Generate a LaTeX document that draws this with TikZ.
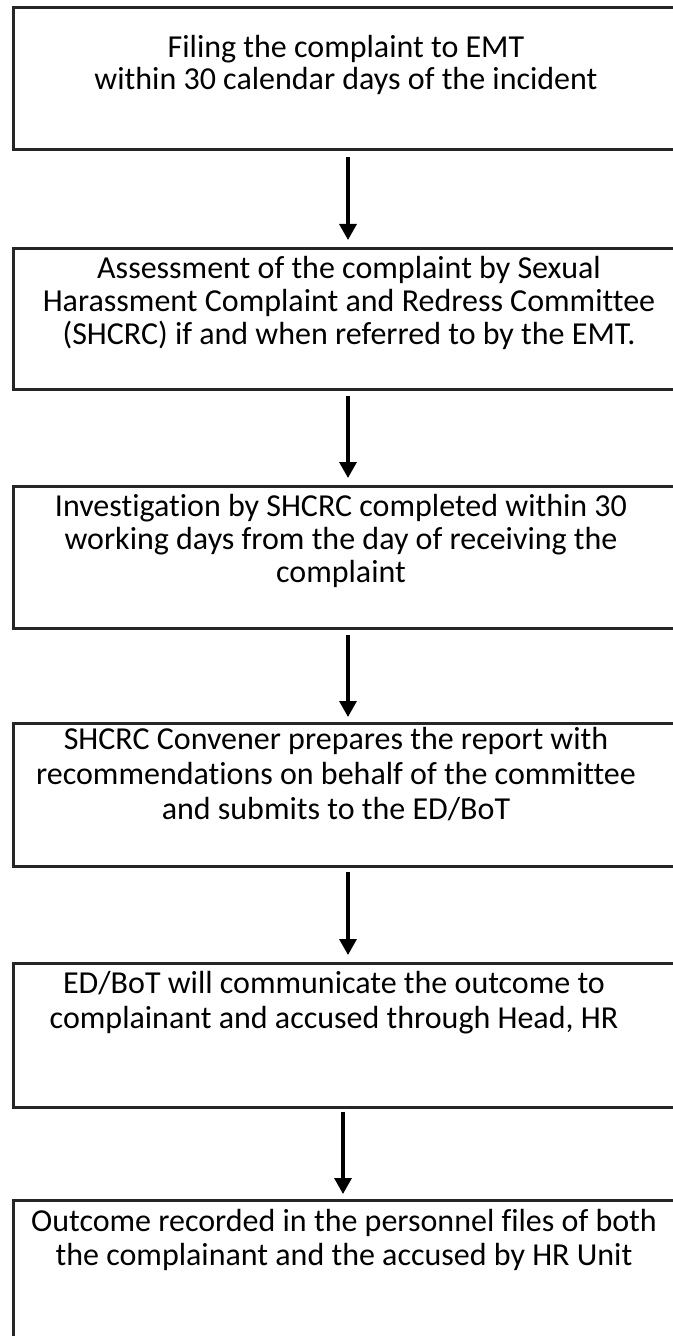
\documentclass[tikz,border=0pt]{standalone}
\usepackage{fontspec}
\setmainfont{Carlito}[Ligatures={NoCommon}]
\usetikzlibrary{arrows.meta}
\begin{document}
\begin{tikzpicture}[x=0.5pt,y=-0.5pt,
  box/.style={draw=black!85, line width=1.3pt, rectangle, inner sep=0pt, anchor=north west, minimum width=337pt},
  txt/.style={align=center, inner sep=0pt, font=\fontsize{16pt}{16.7pt}\selectfont},
  arr/.style={line width=1.6pt, -{Triangle[length=8pt,width=8.5pt]}}]
\useasboundingbox (0,0) rectangle (673,1336);
\node[box, minimum height=71pt] (b1) at (12,6) {};
\node[box, minimum height=70.5pt] (b2) at (12,247) {};
\node[box, minimum height=71pt] (b3) at (12,485) {};
\node[box, minimum height=71.5pt] (b4) at (12,722) {};
\node[box, minimum height=72pt] (b5) at (12,962) {};
\node[box, minimum height=82pt] (b6) at (12,1199) {};
\node[txt, font=\fontsize{16pt}{16pt}\selectfont] (t1) at (346,65) {Filing the complaint to EMT\\within 30 calendar days of the incident};
\node[txt] (t2) at (349,303) {Assessment of the complaint by Sexual\\Harassment Complaint and Redress Committee\\(SHCRC) if and when referred to by the EMT.};
\node[txt] (t3) at (341,541) {Investigation by SHCRC completed within 30\\working days from the day of receiving the\\complaint};
\node[txt, font=\fontsize{16pt}{17.4pt}\selectfont] (t4) at (336,774) {SHCRC Convener prepares the report with\\recommendations on behalf of the committee\\and submits to the ED/BoT};
\node[txt, font=\fontsize{16pt}{17.4pt}\selectfont] (t5) at (334,1003) {ED/BoT will communicate the outcome to\\complainant and accused through Head, HR};
\node[txt] (t6) at (344,1240) {Outcome recorded in the personnel files of both\\the complainant and the accused by HR Unit};
\draw[arr] ([shift={(336,6)}]b1.south west) -- ([shift={(336,-7)}]b2.north west);
\draw[arr] ([shift={(336,5)}]b2.south west) -- ([shift={(336,-7)}]b3.north west);
\draw[arr] ([shift={(336,5)}]b3.south west) -- ([shift={(336,-5)}]b4.north west);
\draw[arr] ([shift={(336,4)}]b4.south west) -- ([shift={(336,-7)}]b5.north west);
\draw[arr] ([shift={(331,3)}]b5.south west) -- ([shift={(331,-5)}]b6.north west);
\end{tikzpicture}
\end{document}
